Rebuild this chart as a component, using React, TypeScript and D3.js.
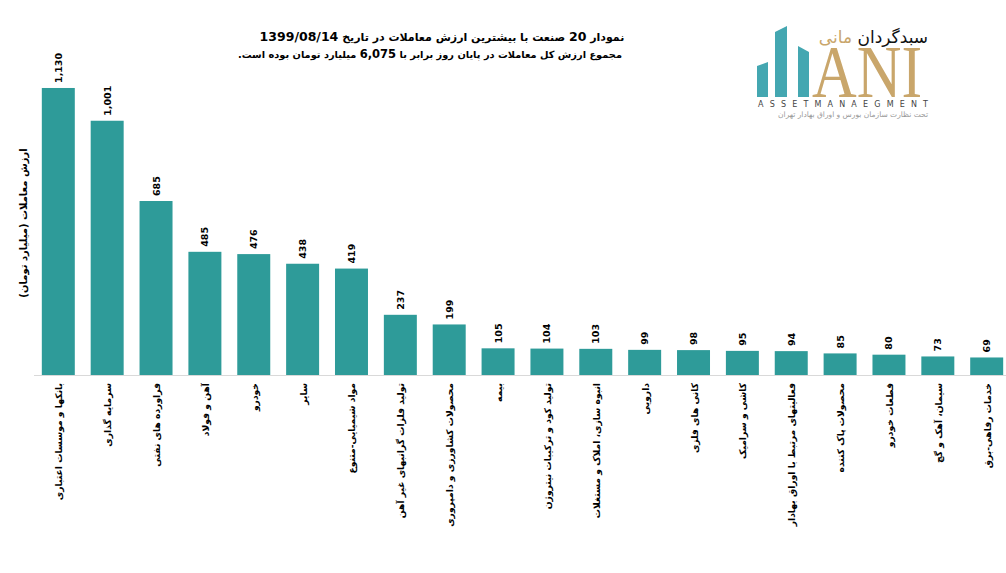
import React from "react";
import * as d3 from "d3";

const categories = [
  "بانکها و موسسات اعتباری",
  "سرمایه گذاری",
  "فراورده های نفتی",
  "آهن و فولاد",
  "خودرو",
  "سایر",
  "مواد شیمیایی-متنوع",
  "تولید فلزات گرانبهای غیر آهن",
  "محصولات کشاورزی و دامپروری",
  "بیمه",
  "تولید کود و ترکیبات نیتروژن",
  "انبوه سازی، املاک و مستغلات",
  "دارویی",
  "کانی های فلزی",
  "کاشی و سرامیک",
  "فعالیتهای مرتبط با اوراق بهادار",
  "محصولات پاک کننده",
  "قطعات خودرو",
  "سیمان، آهک و گچ",
  "خدمات رفاهی-برق",
];
const values = [1130, 1001, 685, 485, 476, 438, 419, 237, 199, 105, 104, 103, 99, 98, 95, 94, 85, 80, 73, 69];
const yTitle = "ارزش معاملات (میلیارد تومان)";

const W = 1006;
const H = 573;
const baseY = 375;
const FONT = "'DejaVu Sans', 'Liberation Sans', sans-serif";

export default function App() {
  const x = d3
    .scaleBand<string>()
    .domain(categories)
    .range([34, 1011])
    .paddingInner(0.325)
    .paddingOuter(0.16);
  const y = d3.scaleLinear().domain([0, 1200]).range([baseY, baseY - 1200 * 0.254]);
  const fmt = d3.format(",");
  const teal = "#2e9b99";
  const gold = "#c9a66b";
  const logoTeal = "#44a7b1";

  return (
    <svg
      width={W}
      height={H}
      style={{ position: "absolute", left: 0, top: 0, background: "#fff" }}
      fontFamily={FONT}
    >
      <rect width={W} height={H} fill="#fff" />
      {/* Title */}
      <text x={442} y={41} textAnchor="middle" direction="rtl" fontSize={11} fontWeight="bold" fill="#000">
        نمودار <tspan fontSize={12.5}>20</tspan> صنعت با بیشترین ارزش معاملات در تاریخ <tspan fontSize={12.5}>1399/08/14</tspan>
      </text>
      <text x={430} y={58} textAnchor="middle" direction="rtl" fontSize={9.8} fontWeight="bold" fill="#000">
        مجموع ارزش کل معاملات در پایان روز برابر با <tspan fontSize={11.5}>6,075</tspan> میلیارد تومان بوده است.
      </text>

      {/* Y axis title */}
      <text
        transform={`translate(27,223) rotate(-90)`}
        textAnchor="middle"
        direction="rtl"
        fontSize={10}
        fontWeight="bold"
        fill="#000"
      >
        {yTitle}
      </text>

      {/* Bars */}
      {categories.map((c, i) => (
        <rect key={c} x={x(c)} y={y(values[i])} width={x.bandwidth()} height={baseY - y(values[i])} fill={teal} />
      ))}

      {/* axis line */}
      <line x1={34} x2={W} y1={baseY + 0.5} y2={baseY + 0.5} stroke="#d9d9d9" strokeWidth={1} />

      {/* data labels */}
      {categories.map((c, i) => {
        const cx = (x(c) as number) + x.bandwidth() / 2;
        return (
          <text
            key={"v" + c}
            transform={`translate(${cx + 3.5},${y(values[i]) - 5}) rotate(-90)`}
            textAnchor="start"
            fontSize={9.5}
            fontWeight="bold"
            fill="#000"
          >
            {fmt(values[i])}
          </text>
        );
      })}

      {/* category labels */}
      {categories.map((c) => {
        const cx = (x(c) as number) + x.bandwidth() / 2;
        return (
          <text
            key={"c" + c}
            transform={`translate(${cx + 4},${baseY + 8}) rotate(-90)`}
            textAnchor="start"
            direction="rtl"
            fontSize={9.2}
            fontWeight="bold"
            fill="#000"
          >
            {c}
          </text>
        );
      })}

      {/* Logo */}
      <g>
        <polygon points="757,66 768,62 768,97 757,97" fill={logoTeal} />
        <polygon points="775,32 787,26 787,97 775,97" fill={logoTeal} />
        <polygon points="798,46 809,52 809,97 798,97" fill={logoTeal} />
        <text
          x={812}
          y={97}
          fontFamily="'Liberation Serif', 'DejaVu Serif', serif"
          fontSize={74}
          fill={gold}
          textLength={110}
          lengthAdjust="spacingAndGlyphs"
        >
          ANI
        </text>
        <text x={928} y={43} textAnchor="start" direction="rtl" fontSize={17} fill="#111">
          سبدگردان <tspan fill={gold}>مانی</tspan>
        </text>
        <text x={758} y={107} fontSize={8} fill="#444" textLength={170} lengthAdjust="spacing">
          ASSETMANAEGMENT
        </text>
        <text x={928} y={117} textAnchor="start" direction="rtl" fontSize={7.5} fill="#999">
          تحت نظارت سازمان بورس و اوراق بهادار تهران
        </text>
      </g>
    </svg>
  );
}
